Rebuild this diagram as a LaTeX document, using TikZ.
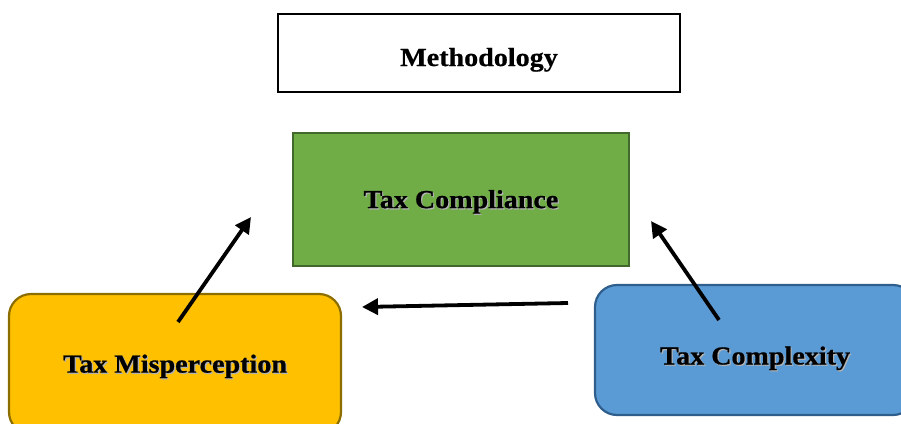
\documentclass[tikz,border=0pt]{standalone}
\usepackage{fontspec}
\setmainfont{Liberation Serif}[FakeStretch=1.08, BoldFeatures={FakeBold=0.6}]
\usetikzlibrary{arrows.meta}
\definecolor{greenfill}{HTML}{70AD47}
\definecolor{greenedge}{HTML}{41692B}
\definecolor{goldfill}{HTML}{FFC000}
\definecolor{goldedge}{HTML}{8C6D00}
\definecolor{bluefill}{HTML}{5B9BD5}
\definecolor{blueedge}{HTML}{2F5E8C}
% bold label with a soft grey drop shadow
\newcommand\shadowlabel[1]{\makebox[0pt][l]{\kern1.2pt\raisebox{-1.2pt}{\textcolor{black!30}{#1}}}#1}
\tikzset{
  label font/.style={font=\fontsize{26}{30}\selectfont\bfseries, text=black,
    text depth=0pt, text height=17.2pt},
  plainbox/.style={draw=black, line width=2.4pt, fill=white, label font},
  squarebox/.style={draw=greenedge, line width=2.8pt, fill=greenfill, label font},
  roundbox/.style={line width=2.2pt, rounded corners=22pt, label font},
  link/.style={line width=3.8pt, -{Triangle[length=16pt,width=16pt]}}
}
\begin{document}
\begin{tikzpicture}[x=1pt,y=-1pt]
  \useasboundingbox (0,0) rectangle (901,423);
  \node[plainbox, minimum width=402pt, minimum height=78pt, text height=26pt] (method) at (479,53) {Methodology};
  \node[squarebox, minimum width=336pt, minimum height=133pt] (compliance) at (461,199.5) {\shadowlabel{Tax Compliance}};
  \node[roundbox, draw=goldedge, fill=goldfill, minimum width=332pt, minimum height=140pt] (misperception) at (175,364) {\shadowlabel{Tax Misperception}};
  \node[roundbox, draw=blueedge, fill=bluefill, minimum width=320pt, minimum height=130pt, text height=29pt] (complexity) at (755,350) {\shadowlabel{Tax Complexity}};
  % arrow ends
  \coordinate (mTail) at (178,322);
  \coordinate (mHead) at (251,217);
  \coordinate (cTail) at (719,320);
  \coordinate (cHead) at (651,221);
  \coordinate (hTail) at (568,303);
  \coordinate (hHead) at (362,307);
  \draw[link] (mTail) -- (mHead);
  \draw[link] (cTail) -- (cHead);
  \draw[link] (hTail) -- (hHead);
\end{tikzpicture}
\end{document}
